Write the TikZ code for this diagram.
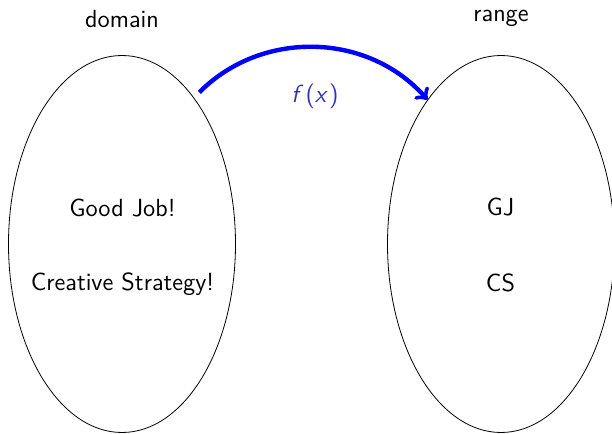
\documentclass[tikz,border=0pt]{standalone}
\usetikzlibrary{positioning, shapes.geometric}

\definecolor{fxblue}{RGB}{51,51,179}

\tikzset{
  set/.style={ellipse, draw, thin, minimum width=113.5pt, minimum height=188.5pt},
  maparrow/.style={->, blue, line width=2.2pt}
}

\begin{document}
\begin{tikzpicture}[x=0.5pt, y=-0.5pt, font=\sffamily\fontsize{12.4}{15}\selectfont]

  \useasboundingbox (0,0) rectangle (612,434);

  % domain
  \node[set, outer sep=4pt] (dom) at (122,244) {};
  \node[above=6.3pt of dom] (domlabel) {domain};
  \node[anchor=base] (goodjob) at (122.5,216.7) {Good Job!};
  \node[anchor=base] (creative) at (122.5,290) {Creative Strategy!};

  % range
  \node[set] (ran) at (501,244) {};
  \node[above=10.5pt of ran] (ranlabel) {range};
  \node[anchor=base] (gj) at (500.5,215.7) {GJ};
  \node[anchor=base] (cs) at (500.5,291.7) {CS};

  % the map f(x)
  \draw[maparrow] (dom.63) to[bend left=47]
    node[midway, below=14pt, text=fxblue] (fx)
      {\slshape f\/\kern1pt\upshape(\slshape x\/\upshape\kern0.5pt)} (ran.117);

\end{tikzpicture}
\end{document}
